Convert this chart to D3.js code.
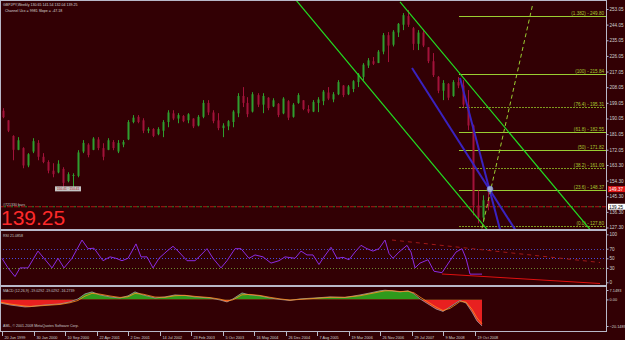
<!DOCTYPE html>
<html>
<head>
<meta charset="utf-8">
<script src="https://cdn.jsdelivr.net/npm/d3@7"></script>
<style>
body { margin: 0; background: #320004; }
svg { display: block; font-family: "Liberation Sans", Arial, sans-serif; }
</style>
</head>
<body>
<svg id="chart" width="625" height="340"></svg>
<script>
// GBPJPY weekly, one slot = 5 weeks
const opens  = [194.5,189.0,180.0,172.0,173.0,163.0,171.0,176.0,168.0,165.0,160.0,159.0,161.0,154.0,157.0,157.0,171.0,175.0,172.0,178.0,
                173.0,172.0,176.5,171.0,175.0,178.0,188.0,191.0,189.0,183.0,184.0,181.0,183.0,188.0,193.0,190.0,191.5,189.0,190.0,186.0,
                191.0,199.0,193.5,189.0,184.5,185.5,188.0,193.0,203.0,199.0,194.0,203.5,198.0,202.0,197.0,198.5,193.0,200.0,191.0,199.0,
                200.5,195.5,194.0,199.0,200.0,205.0,201.0,204.0,209.0,204.0,207.0,211.0,214.0,220.5,223.0,222.0,228.5,238.0,232.5,239.5,
                244.0,249.0,242.0,233.0,239.5,231.0,223.0,214.0,206.0,210.0,203.0,211.0,209.0,198.0,186.0,140.0,133.0,143.0];
const highs  = [196.0,189.1,180.4,179.3,173.5,170.1,178.7,177.6,170.1,166.0,164.3,166.0,162.0,159.1,158.5,171.8,177.6,175.8,179.3,179.3,
                175.8,178.7,177.6,177.6,177.6,189.1,192.0,192.0,190.2,185.0,184.5,185.0,189.1,194.8,194.8,193.1,192.0,193.1,190.2,192.0,
                200.6,200.6,194.8,193.1,187.3,189.1,194.8,204.6,208.1,202.3,205.2,204.6,204.6,202.3,201.7,198.9,202.3,200.6,198.9,204.6,
                200.6,197.7,200.6,202.3,206.4,208.1,205.2,212.1,209.3,209.3,212.1,216.2,221.9,224.8,225.4,229.4,239.2,239.8,240.9,245.0,
                250.7,252.5,242.7,240.9,240.9,231.1,227.7,214.5,212.1,210.4,212.1,213.9,212.1,206.4,186.5,148.7,145.8,151.6];
const lows   = [190.2,182.2,166.0,171.8,161.4,162.0,170.1,166.0,164.3,158.5,156.2,158.5,150.4,153.3,150.4,156.2,170.1,167.7,171.8,171.8,
                166.0,171.8,171.8,170.1,173.5,177.6,187.3,187.3,181.6,181.6,179.3,180.4,179.3,185.0,189.1,187.3,187.9,187.3,184.5,185.5,
                190.2,192.0,187.3,183.3,179.3,183.3,185.0,190.8,196.6,190.8,193.5,196.6,193.1,194.8,196.6,190.8,192.5,189.1,190.5,198.5,
                194.8,193.1,193.7,193.7,197.7,200.6,199.4,203.5,202.3,203.5,205.2,208.1,212.1,219.1,220.8,221.9,227.0,222.5,231.5,236.9,
                240.9,242.7,229.4,229.4,231.1,221.9,213.9,204.6,200.6,200.6,202.5,207.5,196.6,183.3,134.3,129.7,130.3,137.2];
const closes = [190.8,183.0,172.0,177.5,163.0,169.5,177.0,168.0,165.0,160.0,158.0,164.0,153.0,158.0,157.5,170.5,176.0,169.0,178.5,173.0,
                168.0,177.5,173.0,176.0,176.5,188.0,190.5,188.0,183.0,184.0,180.0,184.0,188.0,193.5,190.0,192.0,188.5,192.5,185.5,191.0,
                199.0,193.5,188.5,184.5,186.0,188.5,194.0,203.0,199.0,192.5,204.0,198.0,203.0,196.0,200.5,192.0,201.5,190.5,198.0,203.5,
                195.5,194.0,199.5,201.0,205.5,201.5,204.0,211.0,203.5,208.5,211.5,215.5,221.0,223.5,221.5,228.5,238.0,232.0,240.0,244.5,
                249.5,244.0,233.0,239.5,232.0,223.0,215.0,206.0,210.5,202.0,211.0,209.0,198.0,186.0,140.0,133.0,143.0,139.25];

const priceTicks = [253.05,244.05,235.05,226.05,217.05,208.05,199.05,190.05,181.05,172.05,163.30,154.30,145.30,136.30,127.30];

const fibNames  = ["(1.382) - 249.80","(100) - 215.84","(76.4) - 195.31","(61.8) - 182.55","(50) - 171.82","(38.2) - 161.09","(23.6) - 148.37","(0.0) - 127.80"];
const fibPrices = [249.0, 215.6, 196.6, 182.0, 171.8, 161.6, 148.7, 128.1];
const fibDotted = [false, false, true, false, false, true, false, true];

const dateWeeks  = [0,32,64,96,128,160,192,224,256,288,320,352,384,416,448,480];
const dateLabels = ["20 Jun 1999","30 Jan 2000","10 Sep 2000","22 Apr 2001","2 Dec 2001","14 Jul 2002","23 Feb 2003","5 Oct 2003",
                    "16 May 2004","26 Dec 2004","7 Aug 2005","19 Mar 2006","26 Nov 2006","29 Jul 2007","9 Mar 2008","19 Oct 2008"];

// RSI(21): slot, value
const rsiSlot  = [0.4,1.6,3.0,4.0,5.6,7.6,8.8,10.4,11.6,12.8,14.4,16.4,17.6,18.8,20.6,22.0,23.2,24.4,25.6,27.2,28.2,29.4,30.6,31.8,
                  33.4,34.6,35.8,37.4,39.0,40.2,41.4,42.6,44.2,45.4,47.0,48.2,49.8,51.0,52.6,54.2,55.8,57.0,59.0,60.2,61.4,62.6,63.8,
                  64.6,66.2,67.4,68.6,69.8,71.0,72.2,73.4,74.6,75.8,77.0,77.8,78.6,79.8,81.4,82.2,83.0,84.0,85.6,86.8,88.4,90.0,91.2,
                  92.4,93.2,94.0,95.2,96.4];
const rsiValue = [50,30,12,30,30,65,50,30,50,30,50,88,70,71,45,53,50,45,50,80,53,53,30,50,
                  65,75,63,45,45,57,70,50,30,45,70,70,50,57,53,40,45,53,50,65,57,57,37,
                  50,73,50,52,47,63,77,70,65,70,88,60,50,63,77,63,30,40,47,23,20,45,63,
                  70,50,17,17,17];
const rsiTicks = [100,70,50,30,0];

// MACD(12,26,9): slot, histogram, signal
const macdSlot   = [0,2,5,6,9,12,14,15.6,17,18.4,20,22,24,25.6,27,28.6,31,33,35,37,39,42,44,45.4,46.6,48.4,50,52,54,56,58,60,63,66,69,72,74,76,77,78.4,80,81.6,82.8,84,85.6,87.2,88.6,90,91.2,92,93.2,94.4,95.4,96.4];
const macdHist   = [-2.7,-4.2,-5.7,-5.5,-4.2,-3.4,-1.9,0.4,4.2,5.7,3.4,1.9,1.1,2.7,5.7,3.4,1.1,1.9,3.4,3.0,1.9,1.1,-0.4,-1.9,0.4,4.9,3.4,2.7,1.1,0,-0.8,0.4,1.1,1.9,1.5,3.4,4.9,6.5,7.0,6.5,5.7,6.5,4.2,0.4,-3.4,-7.2,-9.1,-5.7,-2.7,-0.8,-2.7,-9.5,-16.3,-20.1];
const macdSignal = [-2.0,-3.5,-5.0,-5.3,-4.6,-3.8,-2.5,-0.8,2.5,4.6,4.0,2.6,1.5,2.0,4.5,4.0,1.8,1.6,2.8,3.1,2.3,1.4,0.2,-1.2,-0.3,3.5,3.8,3.0,1.6,0.4,-0.5,0,0.8,1.6,1.6,2.8,4.3,5.8,6.5,6.6,6.0,6.2,5.0,1.8,-2.0,-5.8,-8.4,-6.8,-3.8,-1.6,-2.0,-7.5,-14.0,-18.5];
const macdTicks  = [7.1493, 0, -20.1489];

// drawn objects: [slot, price] end points
const channel  = [[[80, 257.1], [118, 126.2]], [[59.2, 258.2], [97.4, 126.2]]];
const blueLines = [[[82.4, 219.1], [103, 126.2]], [[92, 213.3], [100, 126.2]]];
const fibRay   = [[96.4, 126.8], [106.6, 256.5]];

const lastPrice = 139.25, markPrice = 149.37;

const svg = d3.select("#chart");
const axisX = 606;
const font = "Liberation Sans, Arial, sans-serif";

const x  = d3.scaleLinear().domain([0, 98]).range([0, 490]);
const xw = d3.scaleLinear().domain([0, 480]).range([2, 475]);
const yP = d3.scaleLinear().domain([127.30, 253.05]).range([227.5, 9]);
const yR = d3.scaleLinear().domain([0, 100]).range([282.3, 234.3]);
const yM = d3.scaleLinear().domain([-20.1489, 7.1493]).range([326, 290]);

svg.append("rect").attr("width", 625).attr("height", 340).attr("fill", "#320004");

const defs = svg.append("defs");
[["clipMain", 0, 1, axisX, 228], ["clipRsi", 0, 231, axisX, 54], ["clipMacd", 0, 287, axisX, 44]]
  .forEach(c => defs.append("clipPath").attr("id", c[0]).append("rect")
    .attr("x", c[1]).attr("y", c[2]).attr("width", c[3]).attr("height", c[4]));

// ---- main panel
const main = svg.append("g").attr("clip-path", "url(#clipMain)");

// bid line
main.append("line").attr("x1", 0).attr("x2", axisX).attr("y1", yP(lastPrice)).attr("y2", yP(lastPrice))
  .attr("stroke", "#b01818").attr("stroke-dasharray", "4,3");
main.append("line").attr("x1", 0).attr("x2", axisX).attr("y1", yP(lastPrice)).attr("y2", yP(lastPrice))
  .attr("stroke", "#2a8a2a").attr("stroke-dasharray", "2,5").attr("stroke-dashoffset", -4);

// fibonacci levels
const fibStart = x(91.8);
fibPrices.forEach((p, i) => {
  main.append("line").attr("x1", fibStart).attr("x2", axisX)
    .attr("y1", Math.round(yP(p)) + 0.5).attr("y2", Math.round(yP(p)) + 0.5)
    .attr("stroke", fibDotted[i] ? "#7f9a20" : "#9acd32")
    .attr("stroke-dasharray", fibDotted[i] ? "2,1" : null);
  main.append("text").attr("x", 604).attr("y", Math.round(yP(p)) - 1)
    .attr("text-anchor", "end").attr("font-size", 4.6).attr("fill", "#a8c830").text(fibNames[i]);
});

// candles
const bars = main.append("g");
opens.forEach((o, i) => {
  const up = closes[i] >= o;
  const col = up ? "#2f9f2f" : "#a3123a";
  const cx = Math.round(x(i + 0.5)) + 0.5;
  bars.append("line").attr("x1", cx).attr("x2", cx).attr("y1", yP(highs[i])).attr("y2", yP(lows[i]))
    .attr("stroke", col);
  const top = yP(Math.max(o, closes[i])), bot = yP(Math.min(o, closes[i]));
  bars.append("rect").attr("x", cx - 1).attr("width", 2).attr("y", top)
    .attr("height", Math.max(1, bot - top)).attr("fill", col);
});

// low marker box
main.append("rect").attr("x", x(11)).attr("y", yP(151.0)).attr("width", x(5.2)).attr("height", yP(148.1) - yP(151.0))
  .attr("fill", "#c4c4c4");
main.append("text").attr("x", x(11) + 2).attr("y", yP(148.6)).attr("font-size", 3.2).attr("fill", "#a02020").text("150.41  ·  150.41");

// channel and trend lines
const lineP = d3.line().x(d => x(d[0])).y(d => yP(d[1]));
channel.forEach(l => main.append("path").attr("d", lineP(l)).attr("stroke", "#22dd22").attr("stroke-width", 1.2).attr("fill", "none"));
blueLines.forEach(l => main.append("path").attr("d", lineP(l)).attr("stroke", "#3a22c0").attr("stroke-width", 2).attr("fill", "none"));
main.append("path").attr("d", lineP(fibRay)).attr("stroke", "#9acd32").attr("stroke-width", 1)
  .attr("stroke-dasharray", "4,3").attr("fill", "none");
main.append("circle").attr("cx", x(98)).attr("cy", yP(149.4)).attr("r", 3)
  .attr("fill", "#b8c8e8").attr("fill-opacity", 0.8).attr("stroke", "#6070d0").attr("stroke-width", 0.6);

// texts
svg.append("text").attr("x", 3).attr("y", 6).attr("font-size", 3.6).attr("fill", "#d8d8d8")
  .text("GBPJPY,Weekly  130.65 141.54 132.04 139.25");
svg.append("text").attr("x", 5).attr("y", 12).attr("font-size", 3.6).attr("fill", "#d8d8d8")
  .text("Channel Ucx = 9981 Slope = -47.18");
svg.append("text").attr("x", 3).attr("y", 205.5).attr("font-size", 3.6).attr("fill", "#c8c8c8").text("#721330 bars");
svg.append("text").attr("x", 1).attr("y", 225).attr("font-size", 21).attr("fill", "#ff2a2a").text("139.25");

// ---- RSI panel
const rsiG = svg.append("g").attr("clip-path", "url(#clipRsi)");
[[70, "#4848b8"], [50, "#4a4ae0"], [30, "#6a8a30"]].forEach(l =>
  rsiG.append("line").attr("x1", 0).attr("x2", axisX).attr("y1", Math.round(yR(l[0])) + 0.5).attr("y2", Math.round(yR(l[0])) + 0.5)
    .attr("stroke", l[1]).attr("stroke-dasharray", "1,2"));
rsiG.append("line").attr("x1", 392).attr("y1", 240).attr("x2", 600).attr("y2", 262.5)
  .attr("stroke", "#a01818").attr("stroke-dasharray", "4,4");
rsiG.append("line").attr("x1", 442).attr("y1", 274).attr("x2", 600).attr("y2", 283.5)
  .attr("stroke", "#e01010").attr("stroke-width", 1);
rsiG.append("path")
  .attr("d", d3.line().x((d, i) => x(rsiSlot[i])).y(d => yR(d))(rsiValue))
  .attr("fill", "none").attr("stroke", "#8a2be2").attr("stroke-width", 1);
svg.append("text").attr("x", 3).attr("y", 237).attr("font-size", 3.6).attr("fill", "#c8c8c8").text("RSI 21.0858");

// ---- MACD panel
const macdG = svg.append("g").attr("clip-path", "url(#clipMacd)");
const area = d3.area().x((d, i) => x(macdSlot[i])).y0(yM(0)).y1(d => yM(d));
defs.append("clipPath").attr("id", "posClip").append("rect").attr("x", 0).attr("y", 280).attr("width", axisX).attr("height", yM(0) - 280);
defs.append("clipPath").attr("id", "negClip").append("rect").attr("x", 0).attr("y", yM(0)).attr("width", axisX).attr("height", 60);
macdG.append("g").attr("clip-path", "url(#posClip)").append("path").attr("d", area(macdHist)).attr("fill", "#2f9a1c");
macdG.append("g").attr("clip-path", "url(#negClip)").append("path").attr("d", area(macdHist)).attr("fill", "#e82020");
macdG.append("path").attr("d", d3.line().x((d, i) => x(macdSlot[i])).y(d => yM(d))(macdHist))
  .attr("fill", "none").attr("stroke", "#a0a0a0").attr("stroke-width", 0.8);
macdG.append("path").attr("d", d3.line().x((d, i) => x(macdSlot[i])).y(d => yM(d))(macdSignal))
  .attr("fill", "none").attr("stroke", "#ff9020").attr("stroke-width", 0.8);
svg.append("text").attr("x", 3).attr("y", 292).attr("font-size", 3.6).attr("fill", "#c8c8c8")
  .text("MACD (12,26,9) -19.0292 -19.0292 -16.2739");
svg.append("text").attr("x", 3).attr("y", 327).attr("font-size", 3.6).attr("fill", "#c8c8c8")
  .text("AML, © 2001-2008 MetaQuotes Software Corp.");

// ---- frames
const frame = svg.append("g").attr("stroke", "#b8b8c8").attr("fill", "none");
frame.append("line").attr("x1", 0).attr("x2", axisX).attr("y1", 0.5).attr("y2", 0.5);
frame.append("line").attr("x1", 0.5).attr("x2", 0.5).attr("y1", 0).attr("y2", 332);
frame.append("line").attr("x1", axisX + 0.5).attr("x2", axisX + 0.5).attr("y1", 0).attr("y2", 332);
[229.5, 230.5, 285.5, 286.5, 331.5].forEach(v =>
  frame.append("line").attr("x1", 0).attr("x2", axisX).attr("y1", v).attr("y2", v));

// ---- right axes
function rightAxis(scale, ticks, fmt, size) {
  const g = svg.append("g").attr("transform", `translate(${axisX + 0.5},0)`)
    .call(d3.axisRight(scale).tickValues(ticks).tickFormat(fmt).tickSize(2).tickPadding(1));
  g.select(".domain").remove();
  g.selectAll(".tick line").attr("stroke", "#b8b8c8");
  g.selectAll(".tick text").attr("font-size", size).attr("fill", "#d0d0d0").attr("font-family", font);
  return g;
}
rightAxis(yP, priceTicks, d3.format(".2f"), 4.6);
rightAxis(yR, rsiTicks, d3.format("d"), 4.6);
rightAxis(yM, macdTicks, d => d === 0 ? "0.00" : d3.format(".4f")(d), 3.9);

// price markers
[[markPrice, "#e01818", "#ffffff"], [lastPrice, "#ffffff", "#000000"]].forEach(m => {
  svg.append("rect").attr("x", axisX + 2).attr("y", yP(m[0]) - 3).attr("width", 17).attr("height", 6).attr("fill", m[1]);
  svg.append("text").attr("x", axisX + 3).attr("y", yP(m[0]) + 1.8).attr("font-size", 4.6).attr("fill", m[2]).text(m[0].toFixed(2));
});

// ---- date axis
const dates = svg.append("g");
dateWeeks.forEach((w, i) => {
  const px = Math.round(xw(w)) + 0.5;
  dates.append("line").attr("x1", px).attr("x2", px).attr("y1", 332).attr("y2", 336).attr("stroke", "#b8b8c8");
  dates.append("text").attr("x", px + 2).attr("y", 338.5).attr("font-size", 3.8).attr("fill", "#d0d0d0").text(dateLabels[i]);
});
</script>
</body>
</html>
